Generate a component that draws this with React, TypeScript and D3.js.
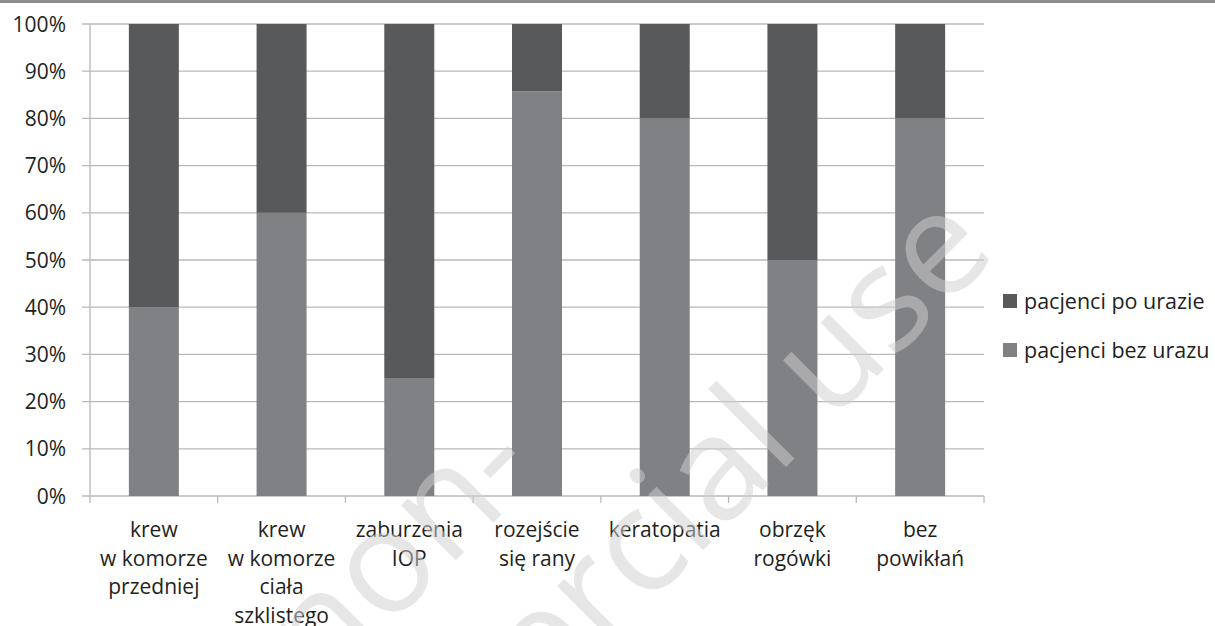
import React from "react";
import * as d3 from "d3";

const categoryLines: string[][] = [
  ["krew", "w komorze", "przedniej"],
  ["krew", "w komorze", "ciała", "szklistego"],
  ["zaburzenia", "IOP"],
  ["rozejście", "się rany"],
  ["keratopatia"],
  ["obrzęk", "rogówki"],
  ["bez", "powikłań"],
];
const categories = categoryLines.map((l) => l.join(" "));
const bezUrazu = [40, 60, 25, 85.7, 80, 50, 80];
const poUrazie = [60, 40, 75, 14.3, 20, 50, 20];
const seriesNames = ["pacjenci po urazie", "pacjenci bez urazu"];
const yTicks = [0, 10, 20, 30, 40, 50, 60, 70, 80, 90, 100];

const W = 1215;
const H = 626;
const FONT = "'Open Sans', sans-serif";
const DARK = "#58595b";
const LIGHT = "#808184";
const GRID = "#b9b9b9";
const TEXT = "#231f20";

export default function App() {
  const x = d3.scaleBand<string>().domain(categories).range([90, 984]).paddingInner(0).paddingOuter(0);
  const y = d3.scaleLinear().domain([0, 100]).range([496, 24]);
  const barW = 50;
  const bw = x.bandwidth();

  const boundaries = d3.range(categories.length + 1).map((i) => 90 + i * bw);

  return (
    <svg width={W} height={H} style={{ position: "absolute", left: 0, top: 0, background: "#fff" }} fontFamily={FONT}>
      <rect x={0} y={0} width={W} height={H} fill="#fff" />
      <rect x={0} y={0} width={W} height={3} fill="#8c8c8c" />
      {/* gridlines */}
      {yTicks.map((t) => (
        <line key={"g" + t} x1={82} x2={984} y1={y(t)} y2={y(t)} stroke={GRID} strokeWidth={1.3} />
      ))}
      {/* y axis */}
      <line x1={90} x2={90} y1={y(100)} y2={y(0)} stroke={GRID} strokeWidth={1.3} />
      {yTicks.map((t) => (
        <text key={"yl" + t} x={66} y={y(t)} dy="0.36em" textAnchor="end" fontSize={21} fill={TEXT}>
          {t + "%"}
        </text>
      ))}
      {/* x ticks */}
      {boundaries.map((b, i) => (
        <line key={"xt" + i} x1={b} x2={b} y1={y(0)} y2={y(0) + 7} stroke={GRID} strokeWidth={1.3} />
      ))}
      {/* bars */}
      {categories.map((c, i) => {
        const cx = (x(c) as number) + bw / 2;
        return (
          <g key={"b" + i}>
            <rect x={cx - barW / 2} y={y(bezUrazu[i])} width={barW} height={y(0) - y(bezUrazu[i])} fill={LIGHT} />
            <rect
              x={cx - barW / 2}
              y={y(bezUrazu[i] + poUrazie[i])}
              width={barW}
              height={y(bezUrazu[i]) - y(bezUrazu[i] + poUrazie[i])}
              fill={DARK}
            />
          </g>
        );
      })}
      {/* x labels */}
      {categories.map((c, i) => {
        const cx = (x(c) as number) + bw / 2;
        return (
          <text key={"xl" + i} textAnchor="middle" fontSize={21} fill={TEXT}>
            {categoryLines[i].map((ln, j) => (
              <tspan key={j} x={cx} y={537 + j * 28.5}>
                {ln}
              </tspan>
            ))}
          </text>
        );
      })}
      {/* legend */}
      {seriesNames.map((s, i) => (
        <g key={"lg" + i}>
          <rect x={1003} y={294 + i * 49} width={14} height={14} fill={i === 0 ? DARK : LIGHT} />
          <text x={1024} y={301 + i * 49} dy="0.36em" fontSize={21.5} fill={TEXT}>
            {s}
          </text>
        </g>
      ))}
      {/* watermark */}
      <g fill="#d0d0d0" fillOpacity={0.52} fontFamily="'Open Sans', sans-serif" fontSize={145}>
        <text transform="translate(543,473) rotate(-45)" textAnchor="end">non-</text>
        <text transform="translate(999,254) rotate(-45)" textAnchor="end">commercial use</text>
      </g>
    </svg>
  );
}
